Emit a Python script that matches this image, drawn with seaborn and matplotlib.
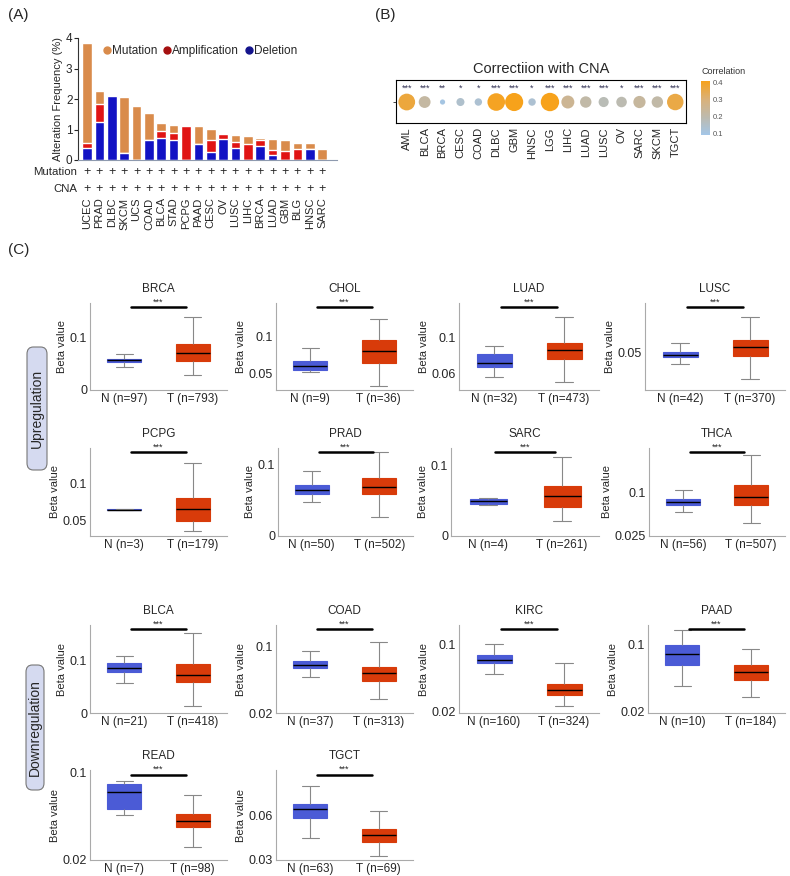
import numpy as np
import pandas as pd
import matplotlib
matplotlib.use("Agg")
import matplotlib.pyplot as plt
import seaborn as sns
from matplotlib.colors import LinearSegmentedColormap, Normalize
from matplotlib.cm import ScalarMappable
from matplotlib.lines import Line2D
from matplotlib.patches import FancyBboxPatch

# ---------------- data: panel A ----------------
cancers_a = ["UCEC", "PRAD", "DLBC", "SKCM", "UCS", "COAD", "BLCA", "STAD", "PCPG", "PAAD",
             "CESC", "OV", "LUSC", "LIHC", "BRCA", "LUAD", "GBM", "BLG", "HNSC", "SARC"]
deletion = [0.38, 1.23, 2.10, 0.22, 0, 0.66, 0.73, 0.66, 0, 0.53,
            0.27, 0.68, 0.38, 0, 0.47, 0.16, 0, 0, 0.35, 0]
amplification = [0.17, 0.61, 0, 0, 0, 0, 0.23, 0.24, 1.12, 0,
                 0.39, 0.17, 0.22, 0.53, 0.17, 0.17, 0.31, 0.36, 0, 0]
mutation = [3.29, 0.43, 0, 1.83, 1.78, 0.87, 0.26, 0.25, 0, 0.57,
            0.36, 0, 0.22, 0.27, 0.09, 0.37, 0.35, 0.21, 0.20, 0.37]

# ---------------- data: panel B ----------------
cancers_b = ["AML", "BLCA", "BRCA", "CESC", "COAD", "DLBC", "GBM", "HNSC", "LGG", "LIHC",
             "LUAD", "LUSC", "OV", "SARC", "SKCM", "TGCT"]
corr_b = [0.37, 0.22, 0.10, 0.14, 0.13, 0.40, 0.42, 0.13, 0.43, 0.25,
          0.21, 0.18, 0.19, 0.23, 0.21, 0.36]
stars_b = ["***", "***", "**", "*", "*", "***", "***", "*", "***", "***",
           "***", "***", "*", "***", "***", "***"]

# ---------------- data: panel C (lo, q1, median, q3, hi) ----------------
brca_n = [0.043, 0.0525, 0.0563, 0.060, 0.0696]
brca_t = [0.029, 0.0544, 0.0715, 0.088, 0.140]
chol_n = [0.0518, 0.0545, 0.060, 0.068, 0.0845]
chol_t = [0.0336, 0.0645, 0.0814, 0.0955, 0.1245]
luad_n = [0.0564, 0.0673, 0.0716, 0.0818, 0.0898]
luad_t = [0.0509, 0.076, 0.0862, 0.0935, 0.1215]
lusc_n = [0.0365, 0.0446, 0.0477, 0.0504, 0.0608]
lusc_t = [0.0196, 0.0462, 0.0565, 0.0646, 0.0908]
pcpg_n = [0.0640, 0.0642, 0.0644, 0.0646, 0.0648]
pcpg_t = [0.0352, 0.0481, 0.0653, 0.0806, 0.1278]
prad_n = [0.0472, 0.0585, 0.0646, 0.0717, 0.0915]
prad_t = [0.0269, 0.0585, 0.0693, 0.0811, 0.1175]
sarc_n = [0.0443, 0.0455, 0.0490, 0.0524, 0.0530]
sarc_t = [0.0205, 0.0414, 0.0567, 0.070, 0.1119]
thca_n = [0.0671, 0.078, 0.0833, 0.0885, 0.1035]
thca_t = [0.0469, 0.0787, 0.0919, 0.1127, 0.164]
blca_n = [0.0573, 0.0796, 0.0873, 0.0955, 0.110]
blca_t = [0.014, 0.0592, 0.0732, 0.0943, 0.1529]
coad_n = [0.0636, 0.0737, 0.0778, 0.0826, 0.0943]
coad_t = [0.0366, 0.0584, 0.0677, 0.0758, 0.1053]
kirc_n = [0.0644, 0.0786, 0.0818, 0.0879, 0.1008]
kirc_t = [0.0269, 0.0402, 0.0463, 0.0535, 0.0778]
paad_n = [0.0511, 0.0758, 0.0887, 0.0996, 0.1178]
paad_t = [0.037, 0.058, 0.0673, 0.0758, 0.0947]
read_n = [0.0609, 0.0666, 0.0817, 0.0895, 0.0922]
read_t = [0.0314, 0.0501, 0.0555, 0.0615, 0.0795]
tgct_n = [0.0445, 0.0584, 0.0642, 0.0676, 0.0798]
tgct_t = [0.0323, 0.0415, 0.0462, 0.0503, 0.0625]

# name, normal, tumor, n normal, n tumor
panels = [
    ("BRCA", brca_n, brca_t, 97, 793), ("CHOL", chol_n, chol_t, 9, 36),
    ("LUAD", luad_n, luad_t, 32, 473), ("LUSC", lusc_n, lusc_t, 42, 370),
    ("PCPG", pcpg_n, pcpg_t, 3, 179), ("PRAD", prad_n, prad_t, 50, 502),
    ("SARC", sarc_n, sarc_t, 4, 261), ("THCA", thca_n, thca_t, 56, 507),
    ("BLCA", blca_n, blca_t, 21, 418), ("COAD", coad_n, coad_t, 37, 313),
    ("KIRC", kirc_n, kirc_t, 160, 324), ("PAAD", paad_n, paad_t, 10, 184),
    ("READ", read_n, read_t, 7, 98), ("TGCT", tgct_n, tgct_t, 63, 69),
]

# ---------------- layout (pixels) ----------------
# x0, x1, y0, y1, ylim, yticks
layout = [
    (90, 227, 303, 390, (0, 0.166), [0, 0.1]),
    (276, 413, 303, 390, (0.028, 0.146), [0.05, 0.1]),
    (459, 599, 303, 390, (0.0425, 0.137), [0.06, 0.1]),
    (645, 785, 303, 390, (0.0069, 0.107), [0.05]),
    (90, 227, 448, 536, (0.0282, 0.1486), [0.05, 0.1]),
    (278, 413, 448, 536, (0, 0.1236), [0, 0.1]),
    (451, 599, 448, 536, (0, 0.124), [0, 0.1]),
    (649, 785, 448, 536, (0.025, 0.1767), [0.025, 0.1]),
    (90, 227, 625, 713, (0, 0.169), [0, 0.1]),
    (276, 413, 625, 713, (0.02, 0.126), [0.02, 0.1]),
    (459, 599, 625, 713, (0.018, 0.124), [0.02, 0.1]),
    (648, 785, 625, 713, (0.018, 0.124), [0.02, 0.1]),
    (90, 227, 770, 860, (0.0194, 0.1021), [0.02, 0.1]),
    (276, 413, 770, 860, (0.0295, 0.0907), [0.03, 0.06]),
]

W, H = 790, 876
MUT_C, AMP_C, DEL_C = "#D98B4B", "#E01414", "#1212C4"
N_C, T_C = "#4B5BD6", "#D83B0A"

sns.set_theme(style="white")
plt.rcParams["font.family"] = ["Liberation Sans", "DejaVu Sans"]

fig = plt.figure(figsize=(7.9, 8.76), dpi=100)


def rect(x0, y0, x1, y1):
    return [x0 / W, 1 - y1 / H, (x1 - x0) / W, (y1 - y0) / H]


# ================= Panel A =================
ax = fig.add_axes(rect(78, 38, 337, 160))
dele = np.array(deletion)
amp_top = dele + np.array(amplification)
total = amp_top + np.array(mutation)
sns.barplot(x=cancers_a, y=total, color=MUT_C, saturation=1, width=0.78, ax=ax)
sns.barplot(x=cancers_a, y=amp_top, color=AMP_C, saturation=1, width=0.78, ax=ax)
sns.barplot(x=cancers_a, y=dele, color=DEL_C, saturation=1, width=0.78, ax=ax)
ax.set_xlim(-0.73, 20.2)
ax.set_ylim(0, 4)
ax.set_yticks([0, 1, 2, 3, 4])
ax.set_ylabel("Alteration Frequency (%)", fontsize=8, labelpad=2)
ax.tick_params(axis="y", labelsize=8.5, length=3, width=0.8, pad=1, left=True)
ax.tick_params(axis="x", labelsize=8, length=0, pad=27, labelrotation=90)
for s in ["top", "right"]:
    ax.spines[s].set_visible(False)
ax.spines["left"].set_color("#333333")
ax.spines["bottom"].set_color("#8E9AAF")
for sp in ax.spines.values():
    sp.set_linewidth(0.8)
xt = ax.get_xaxis_transform()
for i in range(len(cancers_a)):
    ax.text(i, -0.1, "+", transform=xt, ha="center", va="center", fontsize=9)
    ax.text(i, -0.235, "+", transform=xt, ha="center", va="center", fontsize=9)
ax.text(-0.004, -0.1, "Mutation", transform=ax.transAxes, ha="right", va="center", fontsize=8.2)
ax.text(-0.004, -0.235, "CNA", transform=ax.transAxes, ha="right", va="center", fontsize=8.2)
handles = [Line2D([], [], ls="", marker="o", markersize=5, color=c) for c in [MUT_C, "#A50F0F", "#14148C"]]
ax.legend(handles, ["Mutation", "Amplification", "Deletion"], ncol=3, frameon=False,
          loc="center left", bbox_to_anchor=(0.075, 0.89), fontsize=8.5, handletextpad=0.05,
          columnspacing=0.4, handlelength=0.8, borderaxespad=0)

# ================= Panel B =================
cmap = LinearSegmentedColormap.from_list(
    "corr", [(0, "#A3C6E8"), (0.33, "#BDBAAE"), (0.66, "#D9B17A"), (1, "#F7A21B")])
norm = Normalize(0.09, 0.41)
axb = fig.add_axes(rect(396, 80, 686, 123))
sns.scatterplot(x=cancers_b, y=np.zeros(len(cancers_b)), hue=corr_b, size=corr_b,
                palette=cmap, hue_norm=norm, sizes=(14, 175), size_norm=(0.10, 0.43),
                linewidth=0, legend=False, ax=axb)
for i, s in enumerate(stars_b):
    axb.text(i, 0.42, s, ha="center", va="bottom", fontsize=6.5, color="#333355")
axb.set_xlim(-0.6, 15.6)
axb.set_ylim(-1, 1.05)
axb.set_yticks([0])
axb.set_yticklabels([""])
axb.tick_params(axis="y", length=2, width=0.6, left=True)
axb.tick_params(axis="x", labelsize=8, length=0, pad=3, labelrotation=90)
for sp in axb.spines.values():
    sp.set_color("black")
    sp.set_linewidth(0.8)
axb.set_title("Correctiion with CNA", fontsize=10.5, pad=5)

cax = fig.add_axes(rect(701, 81, 710, 135))
cb = fig.colorbar(ScalarMappable(norm=norm, cmap=cmap), cax=cax)
cb.outline.set_visible(False)
cb.set_ticks([0.1, 0.2, 0.3, 0.4])
cax.tick_params(labelsize=5.5, length=0, pad=2, labelcolor="#555555")
fig.text(701 / W, 1 - 72 / H, "Correlation", fontsize=6.5, ha="left", va="center", color="#333333")

# ================= Panel C =================
for (name, nv, tv, nn, tn), (x0, x1, y0, y1, ylim, yt) in zip(panels, layout):
    a = fig.add_axes(rect(x0, y0, x1, y1))
    g_n, g_t = f"N (n={nn})", f"T (n={tn})"
    df = pd.DataFrame({"group": [g_n] * len(nv) + [g_t] * len(tv), "value": nv + tv})
    sns.boxplot(data=df, x="group", y="value", hue="group", palette=[N_C, T_C],
                width=0.5, whis=(0, 100), saturation=1, linewidth=0.8, linecolor="#888888",
                medianprops={"color": "black", "linewidth": 1.0}, legend=False, ax=a)
    for p in a.patches:
        p.set_edgecolor(p.get_facecolor())
    a.set_xlim(-0.5, 1.5)
    a.set_ylim(*ylim)
    a.set_yticks(yt)
    a.set_yticklabels([f"{t:g}" for t in yt])
    a.set_xlabel("")
    a.set_ylabel("Beta value", fontsize=8, labelpad=2)
    a.set_title(name, fontsize=8.5, pad=8)
    a.tick_params(axis="y", length=0, labelsize=9, pad=2)
    a.tick_params(axis="x", length=0, labelsize=8.5, pad=2)
    for s in ["top", "right"]:
        a.spines[s].set_visible(False)
    for s in ["left", "bottom"]:
        a.spines[s].set_color("#AAAAAA")
        a.spines[s].set_linewidth(0.8)
    at = a.get_xaxis_transform()
    a.plot([0.1, 0.9], [0.95, 0.95], transform=at, color="black", lw=1.8, clip_on=False)
    a.text(0.5, 0.955, "***", transform=at, ha="center", va="bottom", fontsize=6.5)

# side labels
for (bx0, by0, bx1, by1, txt) in [(27, 347, 47, 470, "Upregulation"),
                                   (26, 665, 44, 790, "Downregulation")]:
    fb = FancyBboxPatch((bx0 / W, 1 - by1 / H), (bx1 - bx0) / W, (by1 - by0) / H,
                        boxstyle="round,pad=0,rounding_size=0.008", transform=fig.transFigure,
                        facecolor="#D5DAF0", edgecolor="#777777", linewidth=0.8)
    fig.add_artist(fb)
    fig.text((bx0 + bx1) / 2 / W, 1 - (by0 + by1) / 2 / H, txt, rotation=90,
             ha="center", va="center", fontsize=10)

# panel letters
fig.text(8 / W, 1 - 15 / H, "(A)", fontsize=11, va="center")
fig.text(375 / W, 1 - 15 / H, "(B)", fontsize=11, va="center")
fig.text(8 / W, 1 - 250 / H, "(C)", fontsize=11, va="center")

fig.savefig("out.png", dpi=100)
